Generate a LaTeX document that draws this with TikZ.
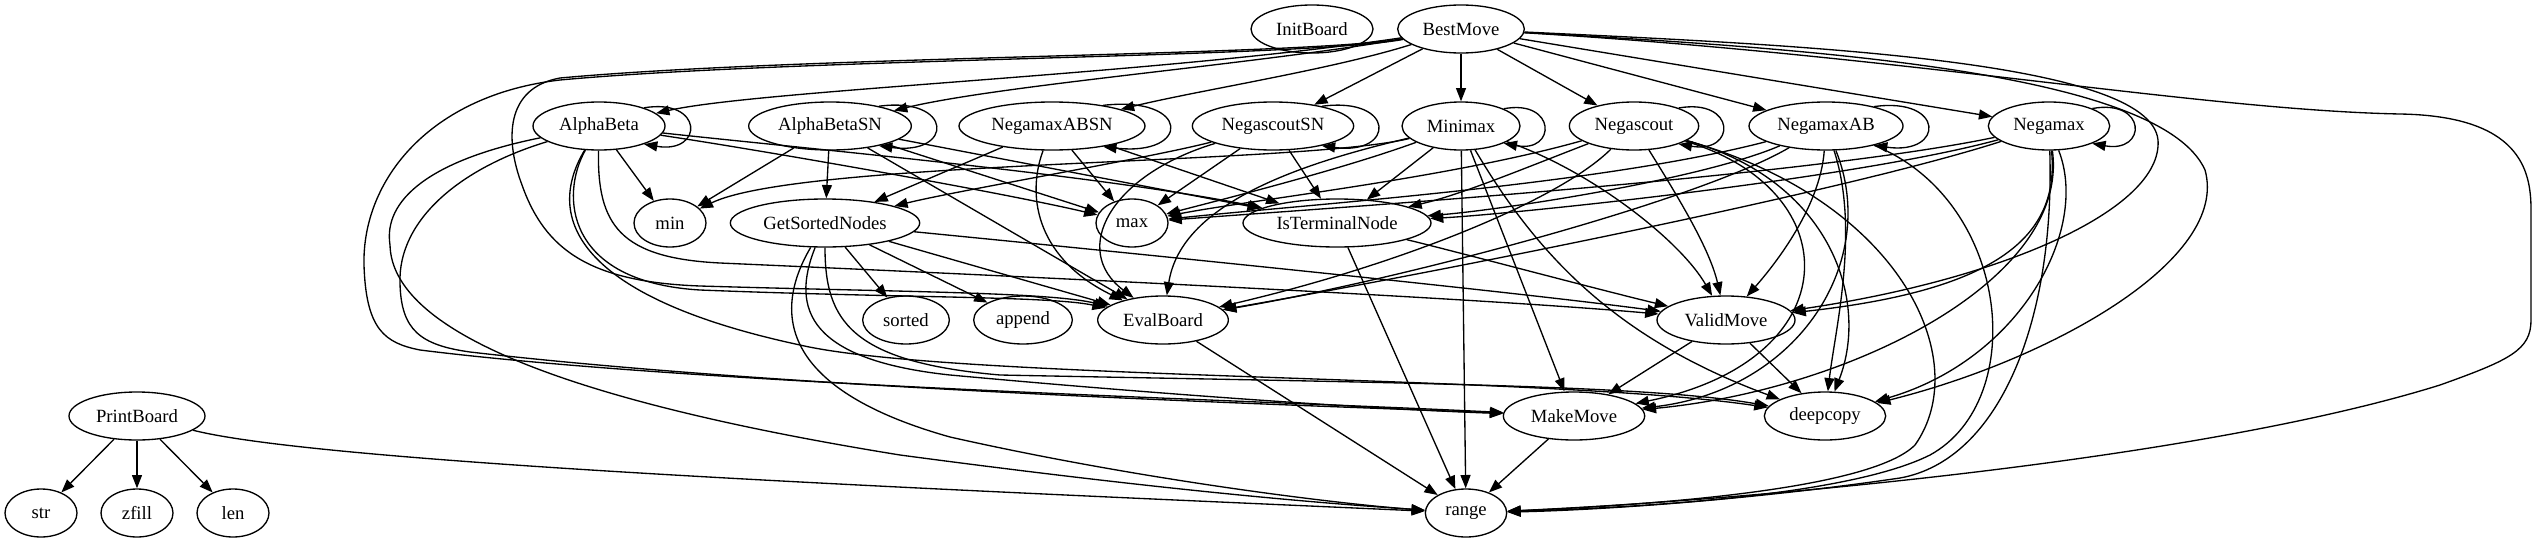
\documentclass[tikz,border=0pt]{standalone}
\usepackage{fontspec}
\setmainfont{Liberation Serif}
\usetikzlibrary{shapes.geometric,arrows.meta}
\tikzset{
  nd/.style={draw, ellipse, line width=1pt, minimum height=36pt, inner sep=0pt, font=\fontsize{14}{16}\selectfont},
  edge/.style={draw, line width=1pt, -{Triangle[length=10pt,width=7.5pt]}}
}
\newcommand{\sloop}[2]{\draw[edge] (#1.22) .. controls +(#2,10) and +(#2,-10) .. (#1.-22);}
\begin{document}
\begin{tikzpicture}[x=0.75pt,y=0.75pt]
\useasboundingbox (0,0) rectangle (2536,-539);
% nodes
\node[nd,minimum width=91.5pt] (InitBoard) at (1312,-29) {InitBoard};
\node[nd,minimum width=95pt] (BestMove) at (1461,-29) {BestMove};
\node[nd,minimum width=99pt] (AlphaBeta) at (599,-126) {AlphaBeta};
\node[nd,minimum width=122pt] (AlphaBetaSN) at (830,-126) {AlphaBetaSN};
\node[nd,minimum width=139.5pt] (NegamaxABSN) at (1052,-126) {NegamaxABSN};
\node[nd,minimum width=121pt] (NegascoutSN) at (1273,-126) {NegascoutSN};
\node[nd,minimum width=88.5pt] (Minimax) at (1461,-126) {Minimax};
\node[nd,minimum width=97pt] (Negascout) at (1634,-126) {Negascout};
\node[nd,minimum width=115.5pt] (NegamaxAB) at (1826,-126) {NegamaxAB};
\node[nd,minimum width=91pt] (Negamax) at (2049,-126) {Negamax};
\node[nd,minimum width=54pt] (min) at (670,-223) {min};
\node[nd,minimum width=142pt] (GetSortedNodes) at (825,-223) {GetSortedNodes};
\node[nd,minimum width=54pt] (max) at (1132,-223) {max};
\node[nd,minimum width=141pt] (IsTerminalNode) at (1337,-223) {IsTerminalNode};
\node[nd,minimum width=65pt] (sorted) at (906,-320) {sorted};
\node[nd,minimum width=74pt] (append) at (1023,-320) {append};
\node[nd,minimum width=98pt] (EvalBoard) at (1163,-320) {EvalBoard};
\node[nd,minimum width=103.5pt] (ValidMove) at (1726,-320) {ValidMove};
\node[nd,minimum width=102pt] (PrintBoard) at (137,-416) {PrintBoard};
\node[nd,minimum width=106pt] (MakeMove) at (1574,-416) {MakeMove};
\node[nd,minimum width=91pt] (deepcopy) at (1825,-416) {deepcopy};
\node[nd,minimum width=54pt] (str) at (41,-513) {str};
\node[nd,minimum width=54pt] (zfill) at (137,-513) {zfill};
\node[nd,minimum width=54pt] (len) at (233,-513) {len};
\node[nd,minimum width=61pt] (range) at (1466,-513) {range};

% PrintBoard
\draw[edge] (PrintBoard) -- (str);
\draw[edge] (PrintBoard) -- (zfill);
\draw[edge] (PrintBoard) -- (len);
\draw[edge] (PrintBoard) .. controls (330,-465) and (1000,-492) .. (range);

% BestMove
\draw[edge] (BestMove) .. controls (1150,-75) and (760,-90) .. (AlphaBeta);
\draw[edge] (BestMove) .. controls (1250,-65) and (1000,-85) .. (AlphaBetaSN);
\draw[edge] (BestMove) .. controls (1330,-70) and (1200,-90) .. (NegamaxABSN);
\draw[edge] (BestMove) -- (NegascoutSN);
\draw[edge] (BestMove) -- (Minimax);
\draw[edge] (BestMove) -- (Negascout);
\draw[edge] (BestMove) -- (NegamaxAB);
\draw[edge] (BestMove) -- (Negamax);
\draw[edge] (BestMove) .. controls (1800,-45) and (2150,-60) .. (2158,-140) .. controls (2163,-210) and (2000,-280) .. (ValidMove);
\draw[edge] (BestMove) .. controls (1800,-48) and (2160,-70) .. (2205,-170) .. controls (2230,-260) and (2050,-360) .. (deepcopy);
\draw[edge] (BestMove) .. controls (1900,-55) and (2200,-110) .. (2400,-114) .. controls (2520,-116) and (2531,-170) .. (2531,-210) -- (2531,-320) .. controls (2531,-350) and (2510,-360) .. (2440,-385) .. controls (2200,-460) and (1750,-500) .. (range);
\draw[edge] (BestMove) .. controls (1300,-58) and (800,-58) .. (560,-80) .. controls (430,-95) and (362,-180) .. (364,-265) .. controls (366,-330) and (385,-343) .. (420,-350) .. controls (700,-385) and (1250,-400) .. (MakeMove);
\draw[edge] (BestMove) .. controls (1300,-56) and (800,-56) .. (560,-78) .. controls (505,-88) and (505,-140) .. (522,-185) .. controls (545,-250) and (590,-282) .. (700,-286) .. controls (900,-292) and (1050,-292) .. (EvalBoard);

% AlphaBeta
\sloop{AlphaBeta}{60}
\draw[edge] (AlphaBeta) -- (min);
\draw[edge] (AlphaBeta) .. controls (760,-150) and (1000,-192) .. (max);
\draw[edge] (AlphaBeta) .. controls (800,-148) and (1100,-175) .. (IsTerminalNode);
\draw[edge] (AlphaBeta) .. controls (560,-195) and (565,-282) .. (700,-290) .. controls (900,-298) and (1050,-296) .. (EvalBoard);
\draw[edge] (AlphaBeta) .. controls (597,-225) and (620,-258) .. (720,-263) .. controls (1150,-282) and (1500,-300) .. (ValidMove);
\draw[edge] (AlphaBeta) .. controls (540,-225) and (590,-300) .. (800,-345) .. controls (950,-380) and (1550,-375) .. (deepcopy);
\draw[edge] (AlphaBeta) .. controls (460,-168) and (398,-220) .. (400,-283) .. controls (401,-330) and (420,-345) .. (470,-352) .. controls (800,-390) and (1300,-405) .. (MakeMove);
\draw[edge] (AlphaBeta) .. controls (430,-160) and (383,-200) .. (390,-245) .. controls (392,-330) and (560,-400) .. (900,-455) .. controls (1200,-495) and (1350,-505) .. (range);

% AlphaBetaSN
\sloop{AlphaBetaSN}{75}
\draw[edge] (AlphaBetaSN) -- (min);
\draw[edge] (AlphaBetaSN) -- (GetSortedNodes);
\draw[edge] (AlphaBetaSN) -- (max);
\draw[edge] (AlphaBetaSN) -- (IsTerminalNode);
\draw[edge] (AlphaBetaSN) -- (EvalBoard);

% NegamaxABSN
\sloop{NegamaxABSN}{88}
\draw[edge] (NegamaxABSN) -- (GetSortedNodes);
\draw[edge] (NegamaxABSN) -- (max);
\draw[edge] (NegamaxABSN) -- (IsTerminalNode);
\draw[edge] (NegamaxABSN) .. controls (1025,-200) and (1040,-260) .. (EvalBoard);

% NegascoutSN
\sloop{NegascoutSN}{74}
\draw[edge] (NegascoutSN) .. controls (1150,-158) and (960,-190) .. (GetSortedNodes);
\draw[edge] (NegascoutSN) .. controls (1110,-175) and (1070,-250) .. (EvalBoard);
\draw[edge] (NegascoutSN) -- (max);
\draw[edge] (NegascoutSN) -- (IsTerminalNode);

% Minimax
\sloop{Minimax}{53}
\draw[edge] (Minimax) .. controls (1300,-165) and (800,-160) .. (min);
\draw[edge] (Minimax) .. controls (1340,-170) and (1220,-200) .. (max);
\draw[edge] (Minimax) .. controls (1280,-168) and (1180,-210) .. (EvalBoard);
\draw[edge] (Minimax) -- (IsTerminalNode);
\draw[edge] (Minimax) -- (range);
\draw[edge] (Minimax) -- (MakeMove);
\draw[edge] (Minimax) .. controls (1540,-260) and (1620,-340) .. (deepcopy);
\draw[edge] (Minimax) .. controls (1590,-170) and (1680,-240) .. (ValidMove);

% Negascout
\sloop{Negascout}{58}
\draw[edge] (Negascout) .. controls (1450,-178) and (1250,-200) .. (max);
\draw[edge] (Negascout) .. controls (1520,-170) and (1460,-195) .. (IsTerminalNode);
\draw[edge] (Negascout) .. controls (1560,-200) and (1400,-265) .. (EvalBoard);
\draw[edge] (Negascout) .. controls (1680,-200) and (1710,-250) .. (ValidMove);
\draw[edge] (Negascout) .. controls (1850,-190) and (1850,-360) .. (MakeMove);
\draw[edge] (Negascout) .. controls (1830,-180) and (1870,-300) .. (deepcopy);
\draw[edge] (Negascout) .. controls (1900,-200) and (1975,-360) .. (1915,-445) .. controls (1870,-490) and (1650,-505) .. (range);

% NegamaxAB
\sloop{NegamaxAB}{71}
\draw[edge] (NegamaxAB) .. controls (1600,-185) and (1300,-205) .. (max);
\draw[edge] (NegamaxAB) .. controls (1700,-180) and (1500,-210) .. (IsTerminalNode);
\draw[edge] (NegamaxAB) .. controls (1700,-200) and (1400,-280) .. (EvalBoard);
\draw[edge] (NegamaxAB) .. controls (1820,-210) and (1770,-270) .. (ValidMove);
\draw[edge] (NegamaxAB) .. controls (1880,-260) and (1800,-390) .. (MakeMove);
\draw[edge] (NegamaxAB) .. controls (1860,-230) and (1835,-330) .. (deepcopy);
\draw[edge] (NegamaxAB) .. controls (2010,-200) and (2030,-400) .. (1930,-455) .. controls (1850,-495) and (1650,-507) .. (range);

% Negamax
\sloop{Negamax}{55}
\draw[edge] (Negamax) .. controls (1800,-178) and (1300,-210) .. (max);
\draw[edge] (Negamax) .. controls (1850,-180) and (1500,-215) .. (IsTerminalNode);
\draw[edge] (Negamax) .. controls (1850,-190) and (1450,-270) .. (EvalBoard);
\draw[edge] (Negamax) .. controls (2060,-235) and (2000,-290) .. (ValidMove);
\draw[edge] (Negamax) .. controls (2070,-280) and (1850,-390) .. (MakeMove);
\draw[edge] (Negamax) .. controls (2090,-230) and (2020,-360) .. (deepcopy);
\draw[edge] (Negamax) .. controls (2055,-320) and (2000,-460) .. (1900,-478) .. controls (1750,-500) and (1600,-510) .. (range);

% GetSortedNodes
\draw[edge] (GetSortedNodes) -- (sorted);
\draw[edge] (GetSortedNodes) -- (append);
\draw[edge] (GetSortedNodes) -- (EvalBoard);
\draw[edge] (GetSortedNodes) .. controls (1100,-250) and (1500,-290) .. (ValidMove);
\draw[edge] (GetSortedNodes) .. controls (790,-310) and (810,-360) .. (950,-375) .. controls (1200,-398) and (1400,-410) .. (MakeMove);
\draw[edge] (GetSortedNodes) .. controls (825,-320) and (850,-362) .. (1000,-375) .. controls (1400,-383) and (1650,-385) .. (deepcopy);
\draw[edge] (GetSortedNodes) .. controls (768,-320) and (790,-392) .. (950,-437) .. controls (1150,-482) and (1350,-505) .. (range);

% others
\draw[edge] (IsTerminalNode) .. controls (1450,-250) and (1600,-290) .. (ValidMove);
\draw[edge] (IsTerminalNode) -- (range);
\draw[edge] (EvalBoard) -- (range);
\draw[edge] (ValidMove) -- (MakeMove);
\draw[edge] (ValidMove) -- (deepcopy);
\draw[edge] (MakeMove) -- (range);
\end{tikzpicture}
\end{document}
